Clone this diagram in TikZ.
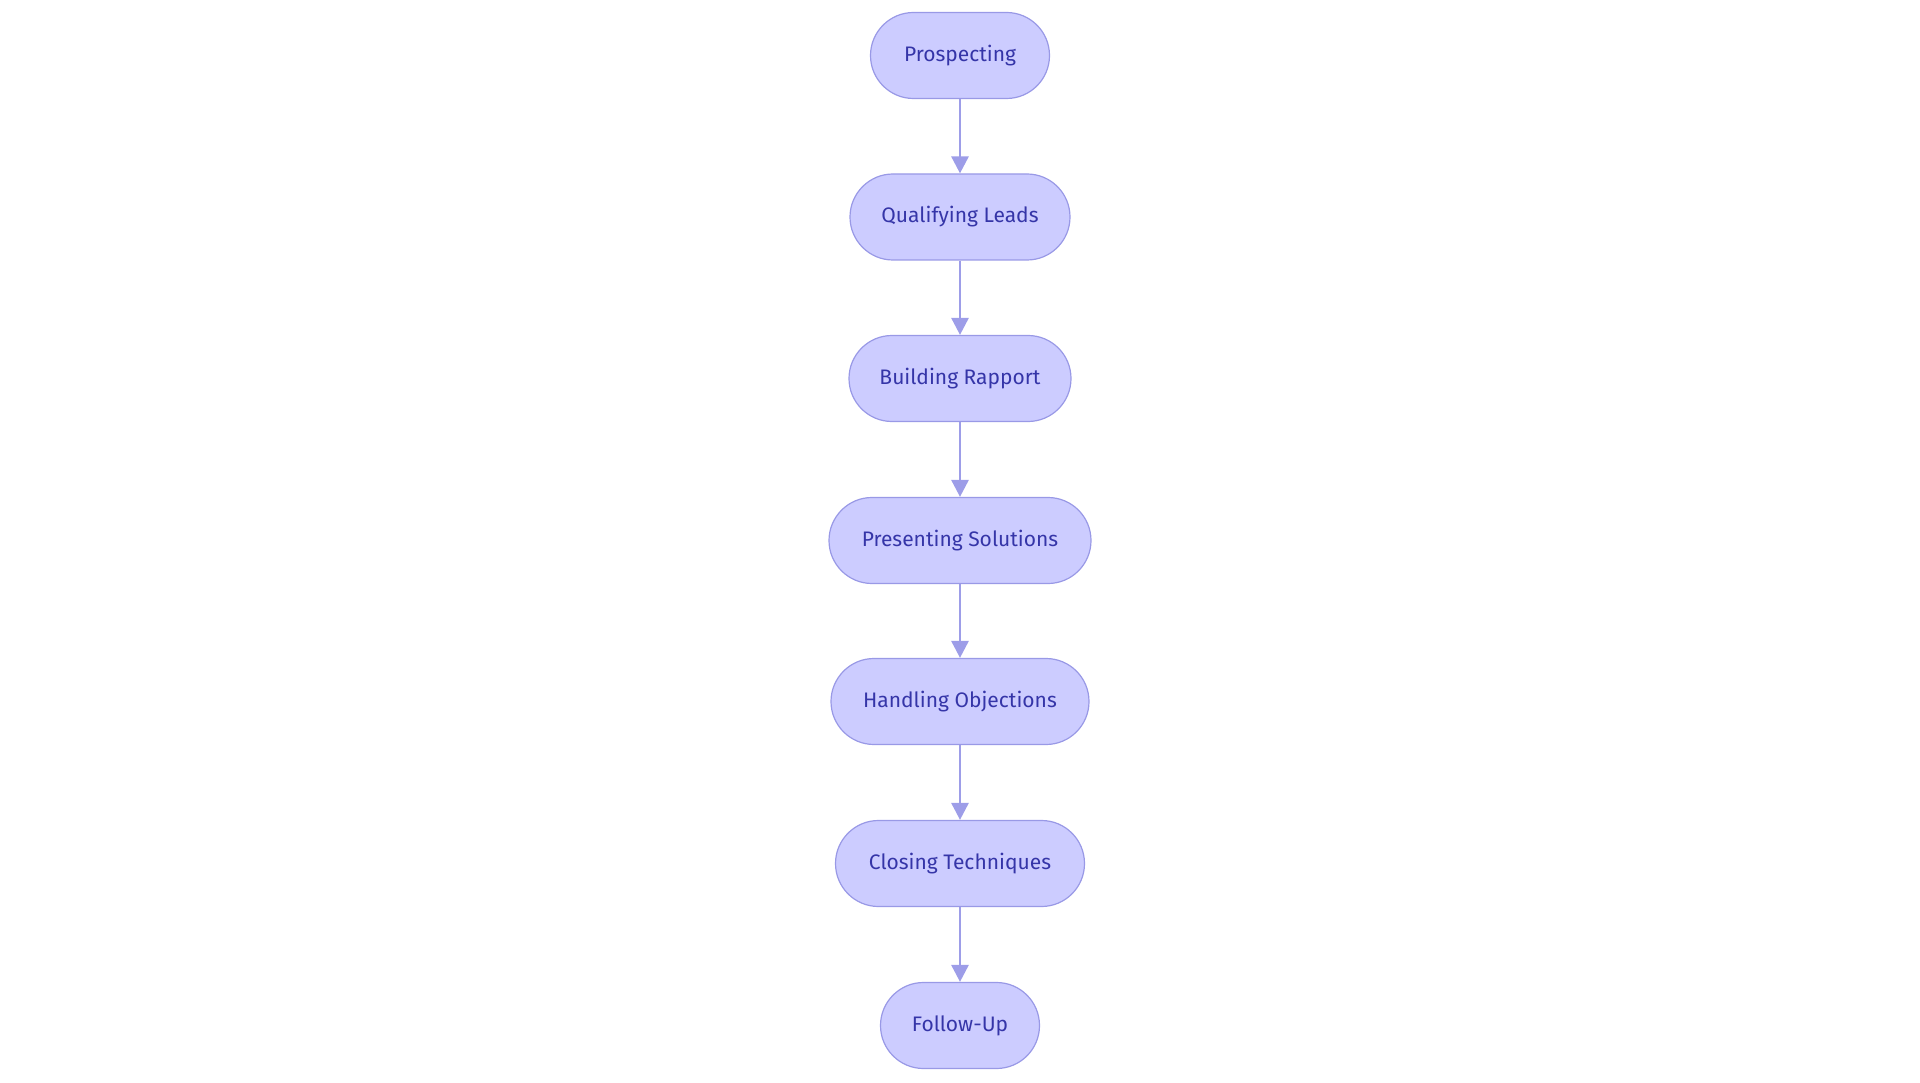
\documentclass[tikz,border=0pt]{standalone}
\usepackage{fontspec}
\setmainfont{Fira Sans}
\usetikzlibrary{arrows.meta}
\definecolor{nfill}{HTML}{CCCCFF}
\definecolor{nline}{HTML}{9999E6}
\definecolor{ntext}{HTML}{3535A8}
\definecolor{arr}{HTML}{9D9DE8}
\tikzset{
 stage/.style={draw=nline, fill=nfill, line width=1.2pt, rounded corners=43pt, minimum height=86pt, text=ntext, font=\fontsize{21}{25}\selectfont, inner sep=0pt, anchor=center},
 conn/.style={draw=arr, line width=2.8pt, -{Triangle[length=17pt,width=17pt]}}
}
\begin{document}
\begin{tikzpicture}[x=1pt,y=-1pt]
\useasboundingbox (0,0) rectangle (1920,1083);
\node[stage, minimum width=179pt] (a) at (960,55.5) {Prospecting};
\node[stage, minimum width=220pt] (b) at (960,217) {Qualifying Leads};
\node[stage, minimum width=222pt] (c) at (960,378.5) {Building Rapport};
\node[stage, minimum width=262pt] (d) at (960,540.5) {Presenting Solutions};
\node[stage, minimum width=258pt] (e) at (960,701.5) {Handling Objections};
\node[stage, minimum width=249pt] (f) at (960,863.5) {Closing Techniques};
\node[stage, minimum width=159pt] (g) at (960,1025.5) {Follow-Up};
\foreach \s/\t in {a/b,b/c,c/d,d/e,e/f,f/g} \draw[conn] (\s) -- (\t);
\end{tikzpicture}
\end{document}
